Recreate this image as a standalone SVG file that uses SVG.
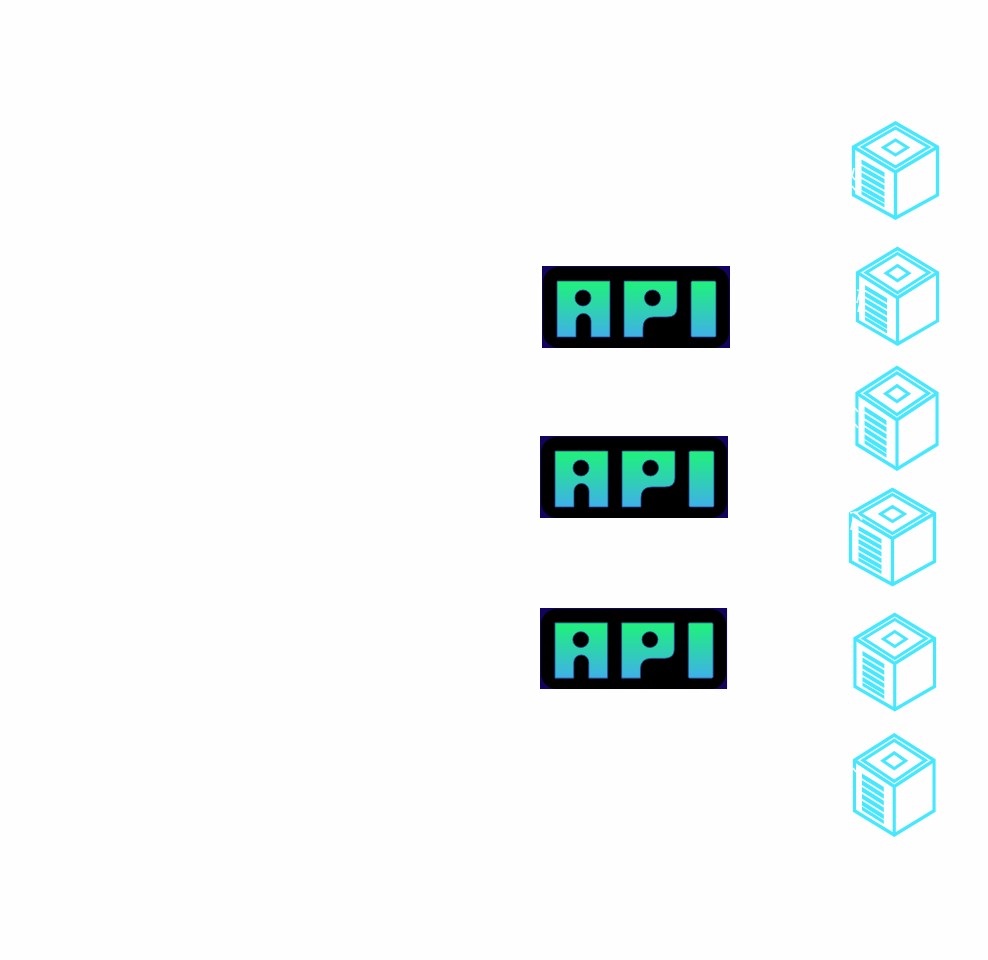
<svg xmlns="http://www.w3.org/2000/svg" width="988" height="960" viewBox="0 0 988 960">
<style>
.c{fill:none;stroke:#46e8ff;stroke-width:3.3;stroke-linejoin:miter}
.t{fill:none;stroke:#46e8ff;stroke-width:3}
.v{fill:#46e8ff}
.w{fill:none;stroke:#fff;stroke-width:1.6}
.l{fill:url(#g);stroke:#2a3f9a;stroke-width:.8}
</style>
<defs>
<linearGradient id="g" x1="0" y1="0" x2="0" y2="1"><stop offset="0" stop-color="#1ff27a"/><stop offset="1" stop-color="#3fb0e8"/></linearGradient>
<symbol id="cube" viewBox="0 0 86 97" overflow="visible" preserveAspectRatio="none">
<path class="c" d="M43 1 85 25V73L43 96 1 73V25Z"/>
<path class="c" d="M1 25 43 50 85 25M43 50V96"/>
<path class="t" d="M43 6 76 25 43 45 10 25Z"/>
<path class="t" d="M43 18 55 25.500 43 33 31 25.500Z"/>
<path class="v" d="M9 37.500 32 50.500V55L9 42Z"/><path class="v" d="M9 44 32 57V61.500L9 48.500Z"/><path class="v" d="M9 50.500 32 63.500V68L9 55Z"/><path class="v" d="M9 57 32 70V74.500L9 61.500Z"/><path class="v" d="M9 63.500 32 76.500V81L9 68Z"/><path class="v" d="M9 69 32 82V85.500L9 72.500Z"/>
</symbol>
<g id="apiArt">
<rect width="188" height="82" fill="#12045e"/>
<rect x="1" y="1" width="186" height="81" rx="16" fill="#000"/>
<path class="l" d="M15 15H68V71H49V55A7.500 7.500 0 0 0 34 55V71H15Z"/>
<circle cx="41" cy="32" r="8" fill="#000" stroke="#2a3f9a" stroke-width=".8"/>
<path class="l" d="M82 15H135V42Q135 51 125 51H112Q101 51 101 62V71H82Z"/>
<circle cx="110.500" cy="32" r="8" fill="#000" stroke="#2a3f9a" stroke-width=".8"/>
<rect class="l" x="149" y="15" width="25" height="56" rx="1.500"/>
</g>
</defs>
<rect width="988" height="960" fill="#fefefe"/>
<g id="connectors"></g>
<g id="api-1" transform="translate(542 266)"><use href="#apiArt"/></g>
<g id="api-2" transform="translate(540 436)"><use href="#apiArt"/></g>
<g id="api-3" transform="translate(540 608) scale(.995 .988)"><use href="#apiArt"/></g>
<g id="cube-1"><use href="#cube" x="852.500" y="122" width="86" height="97"/><path class="w" d="M854 168 852 176 855 180M852 186 856 191"/></g>
<g id="cube-2"><use href="#cube" x="856.500" y="247.500" width="82" height="97.500"/><path class="w" d="M857 290 860 291 857 303M862 294 858 312"/></g>
<g id="cube-3"><use href="#cube" x="856" y="366.500" width="82" height="103.500"/><path class="w" d="M855 408 858 412M855 424 858 428"/></g>
<g id="cube-4"><use href="#cube" x="849.500" y="488.500" width="86" height="97"/><path class="w" d="M850 513 856 512 862 520M853 520 851 530"/></g>
<g id="cube-5"><use href="#cube" x="854" y="613.500" width="81.500" height="97"/></g>
<g id="cube-6"><use href="#cube" x="853.500" y="734" width="81.500" height="102"/><path class="w" d="M853 768 856 772"/></g>
</svg>
